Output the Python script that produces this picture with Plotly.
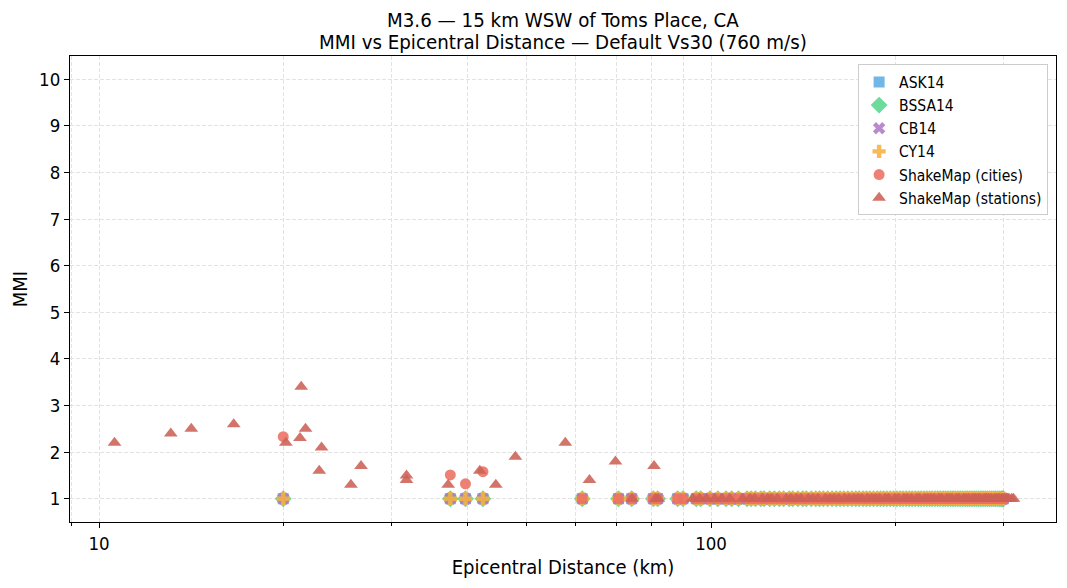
import plotly.graph_objects as go

# ---------------- data ----------------
# City distances (km) where the GMPE models were evaluated / ShakeMap city MMI
city_dist = [
    20.0, 37.5, 39.7, 42.4, 61.6, 70.6, 74.2, 80.5, 81.8, 88.2,
    90.0, 94.6, 96.2, 99.6, 102.6, 105.8, 108.1, 110.9, 114.5, 116.3,
    118.2, 120.6, 122.1, 124.7, 126.9, 129.3, 131.4, 134.2, 136.0, 138.7,
    141.2, 143.1, 145.8, 148.3, 150.4, 152.6, 155.1, 157.7, 160.2, 162.5,
    164.8, 167.3, 169.9, 172.4, 174.6, 177.2, 179.5, 181.8, 184.3, 186.9,
    189.2, 191.4, 193.8, 196.3, 198.7, 201.2, 203.6, 205.9, 208.4, 210.8,
    213.1, 215.7, 218.2, 220.4, 222.9, 225.3, 227.6, 229.8, 232.3, 234.7,
    236.9, 239.4, 241.6, 243.9, 246.3, 248.5, 250.8, 253.2, 255.4, 257.7,
    260.1, 262.3, 264.6, 266.9, 269.2, 271.4, 273.8, 276.1, 278.3, 280.6,
    282.9, 285.1, 287.4, 289.7, 291.9, 294.2, 296.4, 298.1, 299.6, 300.4,
]
city_mmi = [
    2.33, 1.51, 1.32, 1.58, 1, 1, 1, 1, 1, 1,
    1, 1, 1, 1, 1, 1, 1, 1, 1, 1,
    1, 1, 1, 1, 1, 1, 1, 1, 1, 1,
    1, 1, 1, 1, 1, 1, 1, 1, 1, 1,
    1, 1, 1, 1, 1, 1, 1, 1, 1, 1,
    1, 1, 1, 1, 1, 1, 1, 1, 1, 1,
    1, 1, 1, 1, 1, 1, 1, 1, 1, 1,
    1, 1, 1, 1, 1, 1, 1, 1, 1, 1,
    1, 1, 1, 1, 1, 1, 1, 1, 1, 1,
    1, 1, 1, 1, 1, 1, 1, 1, 1, 1,
]
# Model predictions at the city distances (all at the MMI floor of 1)
ask14_mmi = [
    1, 1, 1, 1, 1, 1, 1, 1, 1, 1,
    1, 1, 1, 1, 1, 1, 1, 1, 1, 1,
    1, 1, 1, 1, 1, 1, 1, 1, 1, 1,
    1, 1, 1, 1, 1, 1, 1, 1, 1, 1,
    1, 1, 1, 1, 1, 1, 1, 1, 1, 1,
    1, 1, 1, 1, 1, 1, 1, 1, 1, 1,
    1, 1, 1, 1, 1, 1, 1, 1, 1, 1,
    1, 1, 1, 1, 1, 1, 1, 1, 1, 1,
    1, 1, 1, 1, 1, 1, 1, 1, 1, 1,
    1, 1, 1, 1, 1, 1, 1, 1, 1, 1,
]
bssa14_mmi = list(ask14_mmi)
cb14_mmi = list(ask14_mmi)
cy14_mmi = list(ask14_mmi)

# ShakeMap station observations
station_dist = [
    10.6, 13.1, 14.15, 16.6, 20.2, 21.4, 21.3, 21.75, 23.1, 22.9,
    25.8, 26.8, 31.8, 31.8, 37.2, 41.9, 44.5, 47.9, 57.8, 63.3,
    69.8, 80.7, 74.3, 81.2, 82.0, 93.4, 95.8, 98.3, 101.4, 104.2,
    107.3, 112.6, 115.8, 117.9, 121.3, 123.8, 125.6, 128.4, 132.7, 135.1,
    137.9, 140.3, 144.2, 146.7, 149.5, 153.8, 156.4, 158.9, 161.7, 165.3,
    168.2, 171.1, 173.9, 176.4, 180.2, 183.1, 185.7, 188.4, 192.6, 195.1,
    199.8, 202.4, 206.7, 209.3, 212.5, 216.8, 219.1, 223.4, 226.1, 228.7,
    231.5, 235.6, 238.2, 242.8, 245.1, 247.6, 251.9, 254.3, 258.6, 261.2,
    263.8, 267.5, 270.3, 272.9, 275.2, 279.4, 281.7, 284.3, 286.9, 290.8,
    293.3, 295.7, 298.9, 301.5, 304.2, 306.8, 309.9, 312.0,
]
station_mmi = [
    2.2, 2.4, 2.5, 2.6, 2.2, 3.4, 2.3, 2.5, 2.1, 1.6,
    1.3, 1.7, 1.5, 1.4, 1.3, 1.6, 1.3, 1.9, 2.2, 1.4,
    1.8, 1.7, 1, 1, 1, 1, 1, 1, 1, 1,
    1, 1, 1, 1, 1, 1, 1, 1, 1, 1,
    1, 1, 1, 1, 1, 1, 1, 1, 1, 1,
    1, 1, 1, 1, 1, 1, 1, 1, 1, 1,
    1, 1, 1, 1, 1, 1, 1, 1, 1, 1,
    1, 1, 1, 1, 1, 1, 1, 1, 1, 1,
    1, 1, 1, 1, 1, 1, 1, 1, 1, 1,
    1, 1, 1, 1, 1, 1, 1, 1,
]

x_major = [10, 100]
x_minor = [9, 20, 30, 40, 50, 60, 70, 80, 90, 200, 300]
y_ticks = [1, 2, 3, 4, 5, 6, 7, 8, 9, 10]

title_line1 = "M3.6 — 15 km WSW of Toms Place, CA"
title_line2 = "MMI vs Epicentral Distance — Default Vs30 (760 m/s)"

FONT = "DejaVu Sans Condensed, DejaVu Sans"
GRID = "#e2e2e2"

fig = go.Figure()

series = [
    ("ASK14", city_dist, ask14_mmi, "square", "#5DADE2", 11),
    ("BSSA14", city_dist, bssa14_mmi, "diamond", "#58D68D", 13),
    ("CB14", city_dist, cb14_mmi, "x", "#AF7AC5", 11),
    ("CY14", city_dist, cy14_mmi, "cross", "#F5B041", 11),
    ("ShakeMap (cities)", city_dist, city_mmi, "circle", "#EC7063", 11),
    ("ShakeMap (stations)", station_dist, station_mmi, "triangle-up", "#CD6155", 12),
]
for name, xs, ys, sym, col, sz in series:
    fig.add_trace(go.Scatter(
        x=xs, y=ys, mode="markers", name=name,
        marker=dict(symbol=sym, color=col, size=sz, opacity=0.88,
                    line=dict(width=0)),
    ))

fig.add_annotation(text=title_line1, xref="paper", yref="paper", x=0.5, y=1,
                   yshift=36, showarrow=False, xanchor="center", yanchor="middle",
                   font=dict(family=FONT, size=20.3, color="black"))
fig.add_annotation(text=title_line2, xref="paper", yref="paper", x=0.5, y=1,
                   yshift=14, showarrow=False, xanchor="center", yanchor="middle",
                   font=dict(family=FONT, size=20.3, color="black"))

fig.update_layout(
    width=1067, height=588,
    margin=dict(l=70, r=11, t=56, b=66),
    paper_bgcolor="white", plot_bgcolor="white",
    font=dict(family=FONT, size=15.5, color="black"),
    showlegend=True,
    legend=dict(
        x=0.992, y=0.982, xanchor="right", yanchor="top",
        bgcolor="white", bordercolor="#cccccc", borderwidth=1,
        font=dict(family=FONT, size=15.5, color="black"),
        entrywidth=160, entrywidthmode="pixels",
    ),
    xaxis=dict(
        type="log", range=[0.9526, 2.5637],
        tickmode="array", tickvals=x_major, ticktext=[str(v) for v in x_major],
        ticks="outside", ticklen=5, tickwidth=1, tickcolor="black",
        showline=True, linecolor="black", linewidth=1, mirror=True,
        showgrid=True, gridcolor=GRID, griddash="4px,2px", gridwidth=0.7,
        zeroline=False,
        minor=dict(tickmode="array", tickvals=x_minor, ticks="outside",
                   ticklen=3, tickcolor="black", tickwidth=1,
                   showgrid=True, gridcolor=GRID, griddash="4px,2px", gridwidth=0.7),
        title=dict(text="Epicentral Distance (km)", font=dict(family=FONT, size=20), standoff=6),
        tickfont=dict(family=FONT, size=18.5),
    ),
    yaxis=dict(
        range=[0.5, 10.5],
        tickmode="array", tickvals=y_ticks, ticktext=[str(v) for v in y_ticks],
        ticks="outside", ticklen=5, tickwidth=1, tickcolor="black",
        showline=True, linecolor="black", linewidth=1, mirror=True,
        showgrid=True, gridcolor=GRID, griddash="4px,2px", gridwidth=0.7,
        zeroline=False,
        title=dict(text="MMI", font=dict(family=FONT, size=20), standoff=6),
        tickfont=dict(family=FONT, size=18.5),
    ),
)

fig.write_html("out.html")
